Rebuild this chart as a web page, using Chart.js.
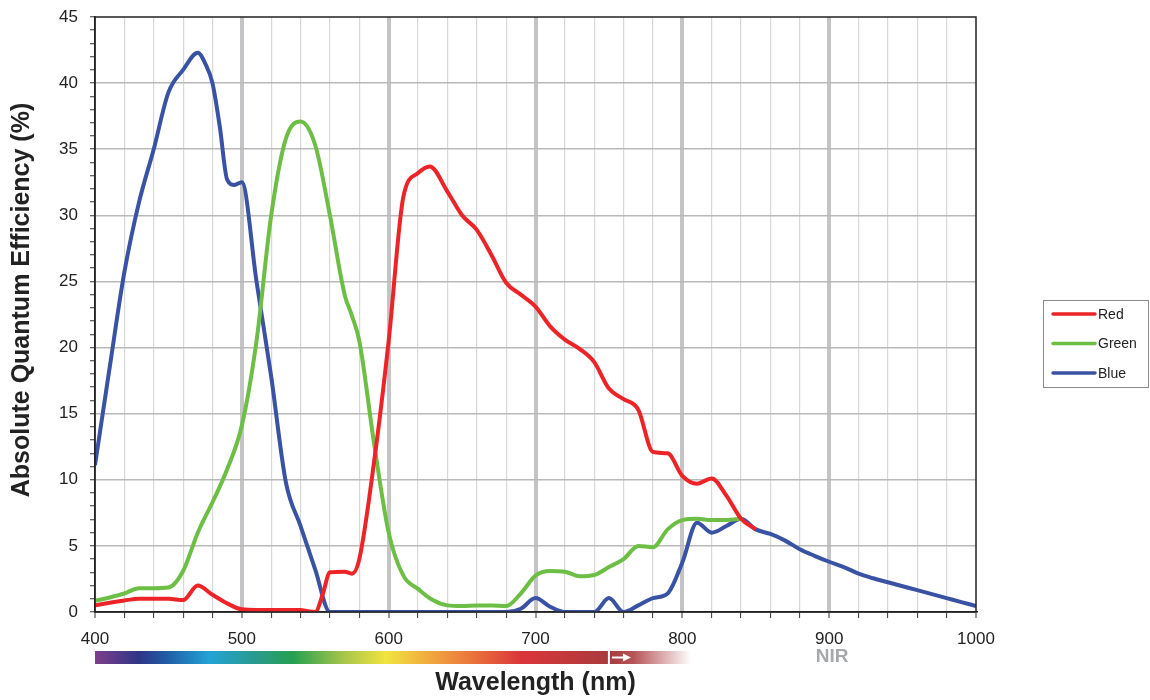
<!DOCTYPE html>
<html>
<head>
<meta charset="utf-8">
<script src="https://cdn.jsdelivr.net/npm/chart.js@4"></script>
<style>
  body { margin: 0; background: #fff; }
  #wrap { width: 1150px; height: 700px; }
</style>
</head>
<body>
<div id="wrap"><canvas id="qe-chart" width="1150" height="700"></canvas></div>
<script>
// wavelengths (nm) and absolute QE (%)
var redNm = [400, 410, 420, 430, 440, 450, 460, 470, 480, 490, 500, 510, 520, 530, 540, 545, 550, 555, 560, 570, 575, 580, 590, 600, 610, 620, 628, 640, 650, 660, 670, 680, 690, 700, 710, 720, 730, 740, 750, 760, 770, 780, 790, 800, 810, 820, 830, 840, 850];
var redQE = [0.5, 0.7, 0.87, 1.0, 1.0, 1.0, 0.9, 2.0, 1.3, 0.65, 0.2, 0.15, 0.15, 0.15, 0.15, 0.05, 0, 1.3, 3.0, 3.05, 2.9, 4.0, 11.3, 20.5, 31.4, 33.2, 33.7, 31.8, 30, 28.9, 27, 24.9, 24, 23.1, 21.6, 20.6, 19.9, 18.9, 16.9, 16.1, 15.3, 12.1, 12, 10.3, 9.7, 10.1, 8.8, 7.05, 6.25];

var greenNm = [400, 410, 420, 430, 440, 450, 460, 470, 480, 490, 500, 510, 520, 530, 540, 550, 560, 570, 575, 580, 590, 600, 610, 620, 630, 640, 650, 660, 670, 680, 690, 700, 710, 720, 730, 740, 750, 760, 770, 780, 790, 800, 810, 820, 830, 840];
var greenQE = [0.85, 1.1, 1.4, 1.8, 1.8, 1.85, 3.1, 6.0, 8.3, 10.8, 14.1, 20.5, 30, 35.8, 37.1, 35.3, 30, 24, 22.4, 20.5, 12.8, 6.0, 2.75, 1.75, 0.9, 0.5, 0.45, 0.5, 0.5, 0.45, 1.4, 2.75, 3.1, 3.05, 2.7, 2.8, 3.4, 4.0, 5.0, 4.9, 6.25, 6.95, 7.05, 6.95, 6.95, 7.05];

var blueNm = [400, 410, 420, 430, 440, 450, 460, 470, 475, 480, 485, 490, 495, 500, 510, 520, 530, 540, 550, 560, 580, 600, 620, 640, 660, 680, 690, 700, 710, 720, 740, 750, 760, 770, 780, 790, 800, 810, 820, 830, 840, 850, 860, 870, 880, 890, 900, 910, 920, 930, 940, 950, 960, 970, 980, 990, 1000];
var blueQE = [11.1, 18.5, 25.7, 31, 35, 39.3, 41, 42.3, 41.5, 40, 36.7, 32.7, 32.3, 32.5, 25, 17.8, 9.8, 6.5, 3.2, 0, 0, 0, 0, 0, 0, 0, 0.25, 1.05, 0.4, 0, 0, 1.05, 0, 0.5, 1.05, 1.4, 3.75, 6.75, 6.0, 6.5, 7.05, 6.25, 5.9, 5.4, 4.75, 4.25, 3.8, 3.4, 2.9, 2.55, 2.25, 1.95, 1.65, 1.35, 1.05, 0.75, 0.45];

var seriesNames = ['Red', 'Green', 'Blue'];
var seriesColors = ['#ec2427', '#6dbe45', '#3a52a3'];

// spectrum strip under the axis
var spectrumStops = [
  [400, '#7d3f8d'], [430, '#2e3585'], [450, '#1f60a8'], [478, '#23a3d6'],
  [510, '#2a9a8c'], [535, '#26a050'], [570, '#a9c64a'], [598, '#f1e43f'],
  [628, '#f1a93f'], [663, '#e8683c'], [690, '#db363a'], [750, '#a93a3d']
];

function pairs(xs, ys) {
  return xs.map(function (x, i) { return { x: x, y: ys[i] }; });
}

var FONT = "'Liberation Sans', Arial, sans-serif";

var frameAndExtras = {
  id: 'frameAndExtras',
  afterDraw: function (chart) {
    var ctx = chart.ctx;
    var a = chart.chartArea;
    var xs = chart.scales.x;
    ctx.save();
    // frame round the plot
    ctx.strokeStyle = '#222';
    ctx.lineWidth = 1.5;
    ctx.strokeRect(a.left, a.top, a.right - a.left, a.bottom - a.top);

    // y axis title
    ctx.save();
    ctx.translate(22, 300);
    ctx.rotate(-Math.PI / 2);
    ctx.fillStyle = '#222';
    ctx.font = 'bold 25px ' + FONT;
    ctx.textAlign = 'center';
    ctx.textBaseline = 'middle';
    ctx.fillText('Absolute Quantum Efficiency (%)', 0, 0);
    ctx.restore();

    // spectrum bar
    var x0 = xs.getPixelForValue(400);
    var x750 = xs.getPixelForValue(750);
    var x1 = xs.getPixelForValue(806);
    var y0 = 651, h = 13;
    var g = ctx.createLinearGradient(x0, 0, x750, 0);
    spectrumStops.forEach(function (s) {
      g.addColorStop((s[0] - 400) / 350, s[1]);
    });
    ctx.fillStyle = g;
    ctx.fillRect(x0, y0, x750 - x0, h);
    var g2 = ctx.createLinearGradient(x750, 0, x1, 0);
    g2.addColorStop(0, '#a93a3d');
    g2.addColorStop(0.3, '#b65558');
    g2.addColorStop(1, 'rgba(255,255,255,1)');
    ctx.fillStyle = g2;
    ctx.fillRect(x750, y0, x1 - x750, h);
    // separator and arrow
    ctx.strokeStyle = '#fff';
    ctx.lineWidth = 2;
    ctx.beginPath();
    ctx.moveTo(x750, y0);
    ctx.lineTo(x750, y0 + h);
    ctx.moveTo(x750 + 3, y0 + h / 2);
    ctx.lineTo(x750 + 16, y0 + h / 2);
    ctx.stroke();
    ctx.fillStyle = '#fff';
    ctx.beginPath();
    ctx.moveTo(x750 + 22, y0 + h / 2);
    ctx.lineTo(x750 + 14, y0 + h / 2 - 4);
    ctx.lineTo(x750 + 14, y0 + h / 2 + 4);
    ctx.closePath();
    ctx.fill();

    // NIR label
    ctx.fillStyle = '#a7a9ac';
    ctx.font = 'bold 19px ' + FONT;
    ctx.textAlign = 'center';
    ctx.textBaseline = 'middle';
    ctx.fillText('NIR', xs.getPixelForValue(902), 657);

    // legend box
    ctx.strokeStyle = '#8a8a8a';
    ctx.lineWidth = 1;
    ctx.strokeRect(1043.5, 300.5, 105, 87);
    ctx.font = '14px ' + FONT;
    ctx.textAlign = 'left';
    chart.data.datasets.forEach(function (ds, i) {
      var ly = 314 + i * 29.5;
      ctx.strokeStyle = ds.borderColor;
      ctx.lineWidth = 3.5;
      ctx.lineCap = 'round';
      ctx.beginPath();
      ctx.moveTo(1053, ly);
      ctx.lineTo(1095, ly);
      ctx.stroke();
      ctx.fillStyle = '#222';
      ctx.fillText(ds.label, 1098, ly + 1);
    });
    ctx.restore();
  }
};

var ctx = document.getElementById('qe-chart').getContext('2d');
var chart = new Chart(ctx, {
  type: 'line',
  data: {
    datasets: [
      { label: seriesNames[0], data: pairs(redNm, redQE), borderColor: seriesColors[0] },
      { label: seriesNames[1], data: pairs(greenNm, greenQE), borderColor: seriesColors[1] },
      { label: seriesNames[2], data: pairs(blueNm, blueQE), borderColor: seriesColors[2] }
    ]
  },
  options: {
    responsive: false,
    animation: false,
    layout: { padding: { top: 17, right: 174, left: 0, bottom: 0 } },
    elements: {
      line: { borderWidth: 4, cubicInterpolationMode: 'monotone', fill: false },
      point: { radius: 0 }
    },
    plugins: {
      legend: { display: false },
      tooltip: { enabled: false }
    },
    scales: {
      x: {
        type: 'linear',
        min: 400,
        max: 1000,
        afterFit: function (s) { s.height = 88; },
        ticks: {
          stepSize: 20,
          autoSkip: false,
          maxRotation: 0,
          padding: 11,
          color: '#222',
          font: { family: FONT, size: 17 },
          callback: function (v) { return v % 100 === 0 ? v : ''; }
        },
        grid: {
          color: function (c) {
            var v = c.tick && c.tick.value;
            if (v === 400 || v === 1000) return 'transparent';
            return v % 100 === 0 ? '#c4c4c7' : '#d8d8d8';
          },
          lineWidth: function (c) {
            var v = c.tick && c.tick.value;
            return v % 100 === 0 ? 4 : 1.2;
          },
          tickColor: '#333',
          tickWidth: 1,
          tickLength: 6
        },
        border: { color: '#222', width: 1.5 },
        title: {
          display: true,
          text: 'Wavelength (nm)',
          color: '#222',
          font: { family: FONT, size: 25, weight: 'bold' },
          padding: { top: 0, bottom: 2 }
        }
      },
      y: {
        min: 0,
        max: 45,
        afterFit: function (s) {
          s.width = 95;
          // keep the plot top fixed; labels may overhang
          s.paddingTop = 0;
          s.paddingBottom = 0;
        },
        ticks: {
          stepSize: 1,
          autoSkip: false,
          padding: 12,
          color: '#222',
          font: { family: FONT, size: 17 },
          callback: function (v) { return v % 5 === 0 ? v : ''; }
        },
        grid: {
          color: function (c) {
            var v = c.tick && c.tick.value;
            if (v === 0 || v === 45) return 'transparent';
            return v % 5 === 0 ? '#b9b9b9' : 'transparent';
          },
          lineWidth: 1.5,
          tickColor: '#333',
          tickWidth: 1,
          tickLength: 5
        },
        border: { color: '#222', width: 1.5 }
      }
    }
  },
  plugins: [frameAndExtras]
});
</script>
</body>
</html>
